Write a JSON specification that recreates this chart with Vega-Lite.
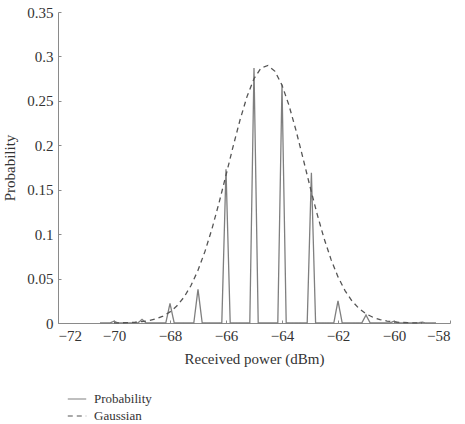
{
  "$schema": "https://vega.github.io/schema/vega-lite/v6.json",
  "width": 392,
  "height": 311,
  "autosize": {"type": "none"},
  "padding": {"left": 58, "top": 12, "right": 15, "bottom": 101},
  "background": "white",
  "config": {
    "font": "Liberation Serif",
    "view": {"stroke": null},
    "axis": {
      "grid": false,
      "domainColor": "#8a8a8a",
      "tickColor": "#8a8a8a",
      "labelColor": "#333333",
      "titleColor": "#333333",
      "labelFont": "Liberation Serif",
      "titleFont": "Liberation Serif",
      "labelFontSize": 15,
      "titleFontSize": 15,
      "titleFontWeight": "normal",
      "tickSize": -3,
      "labelPadding": 8
    },
    "legend": {
      "labelFont": "Liberation Serif",
      "labelFontSize": 13,
      "labelColor": "#333333"
    }
  },
  "data": {
    "values": [
      {"series": "Probability", "x": -70.5, "y": 0},
      {"series": "Probability", "x": -70.15, "y": 0},
      {"series": "Probability", "x": -70, "y": 0.002},
      {"series": "Probability", "x": -69.85, "y": 0},
      {"series": "Probability", "x": -69.15, "y": 0},
      {"series": "Probability", "x": -69, "y": 0.004},
      {"series": "Probability", "x": -68.85, "y": 0},
      {"series": "Probability", "x": -68.15, "y": 0},
      {"series": "Probability", "x": -68, "y": 0.022},
      {"series": "Probability", "x": -67.85, "y": 0},
      {"series": "Probability", "x": -67.15, "y": 0},
      {"series": "Probability", "x": -67, "y": 0.038},
      {"series": "Probability", "x": -66.85, "y": 0},
      {"series": "Probability", "x": -66.15, "y": 0},
      {"series": "Probability", "x": -66, "y": 0.173},
      {"series": "Probability", "x": -65.85, "y": 0},
      {"series": "Probability", "x": -65.15, "y": 0},
      {"series": "Probability", "x": -65, "y": 0.287},
      {"series": "Probability", "x": -64.85, "y": 0},
      {"series": "Probability", "x": -64.15, "y": 0},
      {"series": "Probability", "x": -64, "y": 0.268},
      {"series": "Probability", "x": -63.85, "y": 0},
      {"series": "Probability", "x": -63.1, "y": 0},
      {"series": "Probability", "x": -62.95, "y": 0.169},
      {"series": "Probability", "x": -62.8, "y": 0},
      {"series": "Probability", "x": -62.15, "y": 0},
      {"series": "Probability", "x": -62, "y": 0.025},
      {"series": "Probability", "x": -61.85, "y": 0},
      {"series": "Probability", "x": -61.15, "y": 0},
      {"series": "Probability", "x": -61, "y": 0.009},
      {"series": "Probability", "x": -60.85, "y": 0},
      {"series": "Probability", "x": -60.15, "y": 0},
      {"series": "Probability", "x": -60, "y": 0.002},
      {"series": "Probability", "x": -59.85, "y": 0},
      {"series": "Probability", "x": -59.15, "y": 0},
      {"series": "Probability", "x": -59, "y": 0.001},
      {"series": "Probability", "x": -58.85, "y": 0},
      {"series": "Probability", "x": -58.5, "y": 0},
      {"series": "Gaussian", "x": -70, "y": 0.00011},
      {"series": "Gaussian", "x": -69.75, "y": 0.00023},
      {"series": "Gaussian", "x": -69.5, "y": 0.00045},
      {"series": "Gaussian", "x": -69.25, "y": 0.00084},
      {"series": "Gaussian", "x": -69, "y": 0.00154},
      {"series": "Gaussian", "x": -68.75, "y": 0.00273},
      {"series": "Gaussian", "x": -68.5, "y": 0.00468},
      {"series": "Gaussian", "x": -68.25, "y": 0.00776},
      {"series": "Gaussian", "x": -68, "y": 0.01246},
      {"series": "Gaussian", "x": -67.75, "y": 0.01933},
      {"series": "Gaussian", "x": -67.5, "y": 0.02903},
      {"series": "Gaussian", "x": -67.25, "y": 0.04219},
      {"series": "Gaussian", "x": -67, "y": 0.05931},
      {"series": "Gaussian", "x": -66.75, "y": 0.08063},
      {"series": "Gaussian", "x": -66.5, "y": 0.1061},
      {"series": "Gaussian", "x": -66.25, "y": 0.1351},
      {"series": "Gaussian", "x": -66, "y": 0.1663},
      {"series": "Gaussian", "x": -65.75, "y": 0.1982},
      {"series": "Gaussian", "x": -65.5, "y": 0.2284},
      {"series": "Gaussian", "x": -65.25, "y": 0.2548},
      {"series": "Gaussian", "x": -65, "y": 0.2749},
      {"series": "Gaussian", "x": -64.75, "y": 0.287},
      {"series": "Gaussian", "x": -64.5, "y": 0.2898},
      {"series": "Gaussian", "x": -64.25, "y": 0.2832},
      {"series": "Gaussian", "x": -64, "y": 0.2677},
      {"series": "Gaussian", "x": -63.75, "y": 0.2449},
      {"series": "Gaussian", "x": -63.5, "y": 0.2167},
      {"series": "Gaussian", "x": -63.25, "y": 0.1855},
      {"series": "Gaussian", "x": -63, "y": 0.1536},
      {"series": "Gaussian", "x": -62.75, "y": 0.1231},
      {"series": "Gaussian", "x": -62.5, "y": 0.0954},
      {"series": "Gaussian", "x": -62.25, "y": 0.0716},
      {"series": "Gaussian", "x": -62, "y": 0.0519},
      {"series": "Gaussian", "x": -61.75, "y": 0.0365},
      {"series": "Gaussian", "x": -61.5, "y": 0.0248},
      {"series": "Gaussian", "x": -61.25, "y": 0.0163},
      {"series": "Gaussian", "x": -61, "y": 0.01035},
      {"series": "Gaussian", "x": -60.75, "y": 0.00637},
      {"series": "Gaussian", "x": -60.5, "y": 0.00379},
      {"series": "Gaussian", "x": -60.25, "y": 0.00218},
      {"series": "Gaussian", "x": -60, "y": 0.00122},
      {"series": "Gaussian", "x": -59.75, "y": 0.00066},
      {"series": "Gaussian", "x": -59.5, "y": 0.00034},
      {"series": "Gaussian", "x": -59.25, "y": 0.00017},
      {"series": "Gaussian", "x": -59, "y": 0.00008}
    ]
  },
  "mark": {"type": "line", "strokeWidth": 1.3, "interpolate": "linear"},
  "encoding": {
    "x": {
      "field": "x",
      "type": "quantitative",
      "scale": {"domain": [-72, -58], "nice": false, "zero": false},
      "axis": {
        "title": "Received power (dBm)",
        "values": [-72, -70, -68, -66, -64, -62, -60, -58],
        "titlePadding": 8
      }
    },
    "y": {
      "field": "y",
      "type": "quantitative",
      "scale": {"domain": [0, 0.35], "nice": false},
      "axis": {
        "title": "Probability",
        "values": [0, 0.05, 0.1, 0.15, 0.2, 0.25, 0.3, 0.35],
        "format": "~g",
        "titlePadding": 9
      }
    },
    "color": {
      "field": "series",
      "type": "nominal",
      "scale": {"domain": ["Probability", "Gaussian"], "range": ["#7f7f7f", "#555555"]},
      "legend": {
        "title": null,
        "orient": "none",
        "legendX": 9,
        "legendY": 377,
        "symbolType": "stroke",
        "symbolSize": 340,
        "symbolStrokeWidth": 1.2,
        "labelOffset": 7,
        "labelFontSize": 13,
        "labelFont": "Liberation Serif",
        "rowPadding": 0
      }
    },
    "strokeDash": {
      "field": "series",
      "type": "nominal",
      "scale": {"domain": ["Probability", "Gaussian"], "range": [[1, 0], [5, 4]]},
      "legend": {
        "title": null,
        "orient": "none",
        "legendX": 9,
        "legendY": 377,
        "symbolType": "stroke",
        "symbolSize": 340,
        "symbolStrokeWidth": 1.2,
        "labelOffset": 7,
        "labelFontSize": 13,
        "labelFont": "Liberation Serif",
        "rowPadding": 0
      }
    }
  }
}
